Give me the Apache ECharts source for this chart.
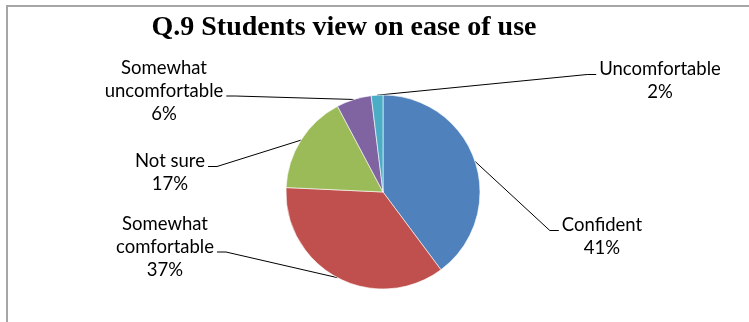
<!DOCTYPE html>
<html>
<head>
<meta charset="utf-8">
<script src="https://cdn.jsdelivr.net/npm/echarts@6/dist/echarts.min.js"></script>
<style>
	html, body { margin: 0; padding: 0; background: #fff; }
	#wrap { position: relative; width: 749px; height: 322px; overflow: hidden; }
	#pie { width: 749px; height: 322px; }
	#frame { position: absolute; left: 6px; top: 5px; width: 800px; height: 400px;
		border-left: 2px solid #a6a6a6; border-top: 2px solid #a6a6a6; pointer-events: none; }
</style>
</head>
<body>
<div id="wrap">
	<div id="pie"></div>
	<div id="frame"></div>
</div>
<script>
// answers to Q.9 (percent of students)
var answers = ['Confident', 'Somewhat\ncomfortable', 'Not sure', 'Somewhat\nuncomfortable', 'Uncomfortable'];
var percents = [41, 37, 17, 6, 2];
var colors = ['#4F81BD', '#C0504D', '#9BBB59', '#8064A2', '#4BACC6'];

// where each label block sits (centre), same order as answers
var labelSpots = [[602, 237], [165, 247], [170, 173], [164, 91], [660, 81]];

var pieData = [];
for (var i = 0; i < answers.length; i++) {
	pieData.push({ name: answers[i], value: percents[i] });
}

var option = {
	animation: false,
	color: colors,
	title: {
		text: 'Q.9 Students view on ease of use',
		left: 339,
		textAlign: 'center',
		top: 9,
		textStyle: {
			fontFamily: 'Liberation Serif',
			fontWeight: 'bold',
			fontSize: 28,
			color: '#000'
		}
	},
	series: [{
		type: 'pie',
		center: [383, 192],
		radius: 97,
		startAngle: 90,
		clockwise: true,
		avoidLabelOverlap: false,
		itemStyle: { borderColor: '#fff', borderWidth: 0.6 },
		label: {
			show: true,
			formatter: '{b}\n{c}%',
			fontFamily: 'Lato',
			fontSize: 18.5,
			lineHeight: 23,
			color: '#000',
			align: 'center'
		},
		labelLine: {
			show: true,
			length: 10,
			length2: 10,
			lineStyle: { color: '#000', width: 1 }
		},
		labelLayout: function (p) {
			var s = labelSpots[p.dataIndex];
			var w = p.labelRect.width, h = p.labelRect.height;
			var lines = String(p.text).split('\n').length;
			var lh = h / lines;
			var left = s[0] - w / 2, top = s[1] - h / 2;
			var ay = top + lh * (Math.floor((lines - 1) / 2) + 0.5) + 5;
			var start = p.labelLinePoints ? p.labelLinePoints[0] : [383, 192];
			var end, knee;
			if (s[0] < start[0]) {
				end = [left + w + 3, ay];
				knee = [left + w + 12, ay];
			} else {
				end = [left - 3, ay];
				knee = [left - 12, ay];
			}
			return {
				x: s[0],
				y: s[1],
				align: 'center',
				verticalAlign: 'middle',
				labelLinePoints: [start, knee, end]
			};
		},
		data: pieData
	}]
};

var pieChart = echarts.init(document.getElementById('pie'));
pieChart.setOption(option, true);
</script>
</body>
</html>
